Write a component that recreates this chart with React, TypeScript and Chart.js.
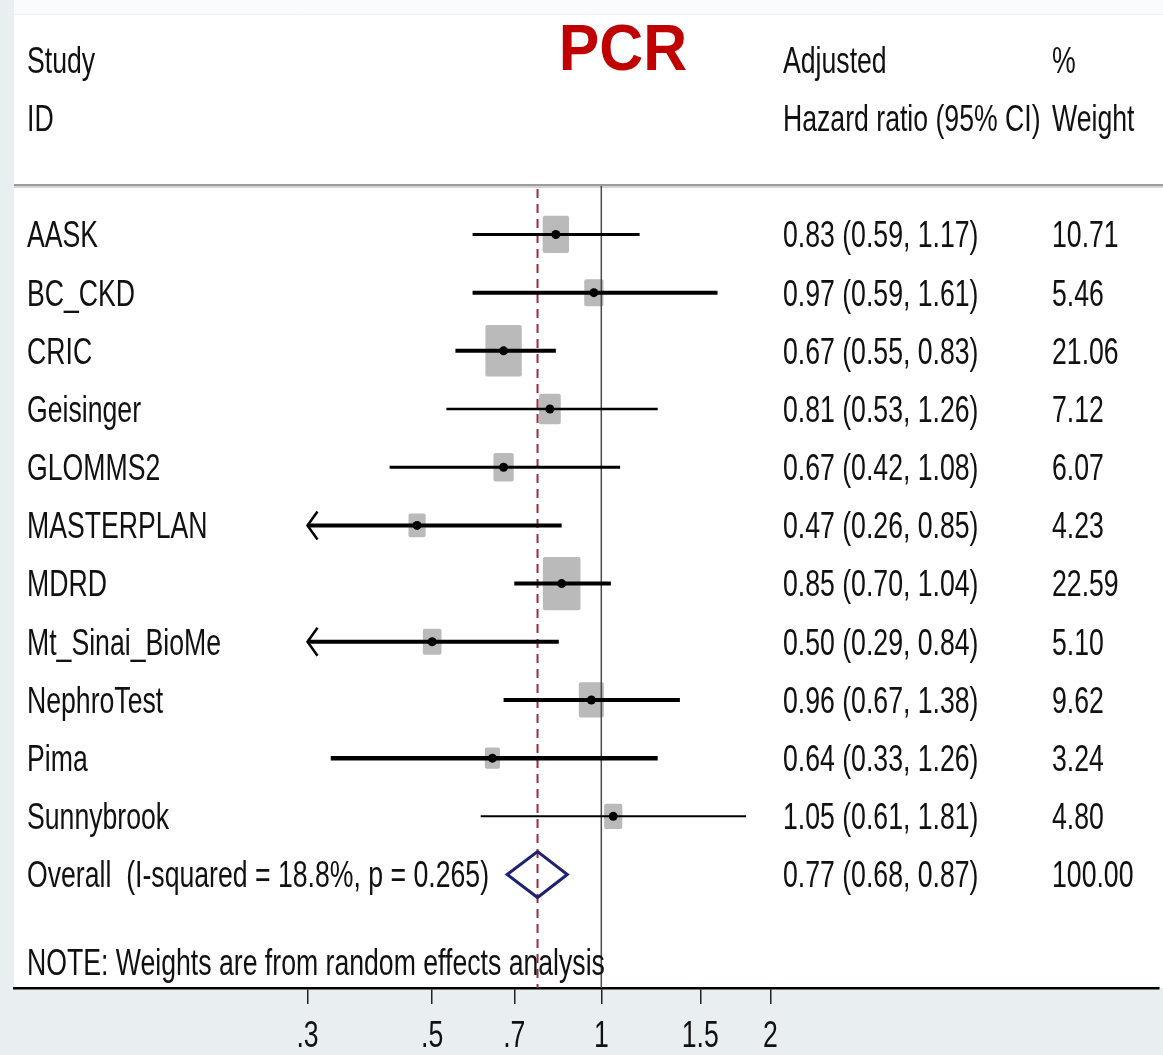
import React, { useEffect, useRef } from "react";
import { Chart, registerables } from "chart.js";

Chart.register(...registerables);

// Study-level results (adjusted hazard ratios, 95% CI, random-effects weights)
const STUDIES = [
  "AASK",
  "BC_CKD",
  "CRIC",
  "Geisinger",
  "GLOMMS2",
  "MASTERPLAN",
  "MDRD",
  "Mt_Sinai_BioMe",
  "NephroTest",
  "Pima",
  "Sunnybrook",
];
const HR = [0.83, 0.97, 0.67, 0.81, 0.67, 0.47, 0.85, 0.5, 0.96, 0.64, 1.05];
const LOWER = [0.59, 0.59, 0.55, 0.53, 0.42, 0.26, 0.7, 0.29, 0.67, 0.33, 0.61];
const UPPER = [1.17, 1.61, 0.83, 1.26, 1.08, 0.85, 1.04, 0.84, 1.38, 1.26, 1.81];
const WEIGHTS = [10.71, 5.46, 21.06, 7.12, 6.07, 4.23, 22.59, 5.1, 9.62, 3.24, 4.8];

// Pooled estimate
const OVERALL_HR = 0.77;
const OVERALL_LOWER = 0.68;
const OVERALL_UPPER = 0.87;
const OVERALL_WEIGHT = 100;
const OVERALL_LABEL = "Overall  (I-squared = 18.8%, p = 0.265)";
const NOTE_LABEL = "NOTE: Weights are from random effects analysis";

// Axis
const X_TICKS = [0.3, 0.5, 0.7, 1, 1.5, 2];
const X_TICK_LABELS = [".3", ".5", ".7", "1", "1.5", "2"];
const X_MIN = 0.0901;
const X_MAX = 9.81;

// Styling
const W = 1163;
const H = 1055;
const CI_WIDTHS = [3, 4, 4, 2.5, 3, 4, 4, 4, 4, 4.5, 2];
const FONT = "'Liberation Sans', Arial, Helvetica, sans-serif";
const FONT_SIZE = 36;
const SX = 0.74; // horizontal condensing of the table text
const TEXT = "#111111";

function condensedText(
  ctx: CanvasRenderingContext2D,
  text: string,
  x: number,
  yCenter: number,
  align: CanvasTextAlign = "left"
) {
  ctx.save();
  ctx.font = `${FONT_SIZE}px ${FONT}`;
  ctx.fillStyle = TEXT;
  ctx.textAlign = align;
  ctx.textBaseline = "alphabetic";
  ctx.translate(x, yCenter + FONT_SIZE * 0.358);
  ctx.scale(SX, 1);
  ctx.fillText(text, 0, 0);
  ctx.restore();
}

const fmt = (v: number) => v.toFixed(2);

const forestPlugin = {
  id: "forest",
  beforeDraw(chart: any) {
    const { ctx, chartArea } = chart;
    ctx.save();
    // page tint, white plot panel
    ctx.fillStyle = "#e9eef1";
    ctx.fillRect(0, 0, W, H);
    ctx.fillStyle = "#fafbfc";
    ctx.fillRect(chartArea.left, 0, W - chartArea.left, 14);
    ctx.fillStyle = "#ffffff";
    ctx.fillRect(chartArea.left, 14, W - chartArea.left, chartArea.bottom - 14);
    ctx.strokeStyle = "#eef0f2";
    ctx.lineWidth = 1;
    ctx.beginPath();
    ctx.moveTo(chartArea.left, 14.5);
    ctx.lineTo(W, 14.5);
    ctx.stroke();
    // header rule
    ctx.strokeStyle = "#d4d4d4";
    ctx.lineWidth = 2;
    ctx.beginPath();
    ctx.moveTo(chartArea.left, chartArea.top + 2);
    ctx.lineTo(W, chartArea.top + 2);
    ctx.stroke();
    ctx.strokeStyle = "#9c9c9c";
    ctx.lineWidth = 2;
    ctx.beginPath();
    ctx.moveTo(chartArea.left, chartArea.top);
    ctx.lineTo(W, chartArea.top);
    ctx.stroke();
    ctx.restore();
  },
  beforeDatasetsDraw(chart: any) {
    const { ctx, chartArea, scales } = chart;
    const xs = scales.x;
    const ys = scales.y;
    ctx.save();

    // weight boxes
    ctx.fillStyle = "#bababa";
    STUDIES.forEach((_, i) => {
      const cx = xs.getPixelForValue(HR[i]);
      const cy = ys.getPixelForValue(i);
      const s = Math.sqrt(WEIGHTS[i]);
      const bw = 7.6 * s + 1.5;
      const bh = 10.9 * s + 1.5;
      ctx.beginPath();
      ctx.roundRect(cx - bw / 2, cy - bh / 2, bw, bh, 2);
      ctx.fill();
    });

    // line of no effect
    const x1 = xs.getPixelForValue(1);
    ctx.strokeStyle = "#4a4a4a";
    ctx.lineWidth = 1.5;
    ctx.beginPath();
    ctx.moveTo(x1, chartArea.top + 1);
    ctx.lineTo(x1, chartArea.bottom);
    ctx.stroke();

    // pooled estimate reference
    const xo = xs.getPixelForValue(OVERALL_HR);
    ctx.strokeStyle = "#9e2a3a";
    ctx.lineWidth = 2;
    ctx.setLineDash([9, 6]);
    ctx.beginPath();
    ctx.moveTo(xo, chartArea.top + 4);
    ctx.lineTo(xo, chartArea.bottom);
    ctx.stroke();
    ctx.setLineDash([]);

    // confidence intervals
    const loClip = X_TICKS[0];
    const hiClip = X_TICKS[X_TICKS.length - 1];
    ctx.strokeStyle = "#000000";
    ctx.lineCap = "butt";
    STUDIES.forEach((_, i) => {
      const cy = ys.getPixelForValue(i);
      const lo = Math.max(LOWER[i], loClip);
      const hi = Math.min(UPPER[i], hiClip);
      const xl = xs.getPixelForValue(lo);
      const xh = xs.getPixelForValue(hi);
      ctx.lineWidth = CI_WIDTHS[i];
      ctx.beginPath();
      ctx.moveTo(xl, cy);
      ctx.lineTo(xh, cy);
      ctx.stroke();
      if (LOWER[i] < loClip) {
        ctx.lineWidth = 2.5;
        ctx.beginPath();
        ctx.moveTo(xl + 10, cy - 14);
        ctx.lineTo(xl, cy);
        ctx.lineTo(xl + 10, cy + 14);
        ctx.stroke();
      }
      if (UPPER[i] > hiClip) {
        ctx.lineWidth = 2.5;
        ctx.beginPath();
        ctx.moveTo(xh - 10, cy - 14);
        ctx.lineTo(xh, cy);
        ctx.lineTo(xh - 10, cy + 14);
        ctx.stroke();
      }
    });
    ctx.restore();
  },
  afterDatasetsDraw(chart: any) {
    const { ctx, scales } = chart;
    const xs = scales.x;
    const ys = scales.y;
    const cy = ys.getPixelForValue(STUDIES.length);
    const half = 23;
    ctx.save();
    ctx.strokeStyle = "#1d2270";
    ctx.lineWidth = 3;
    ctx.lineJoin = "miter";
    ctx.beginPath();
    ctx.moveTo(xs.getPixelForValue(OVERALL_LOWER), cy);
    ctx.lineTo(xs.getPixelForValue(OVERALL_HR), cy - half);
    ctx.lineTo(xs.getPixelForValue(OVERALL_UPPER), cy);
    ctx.lineTo(xs.getPixelForValue(OVERALL_HR), cy + half);
    ctx.closePath();
    ctx.stroke();
    ctx.restore();
  },
  afterDraw(chart: any) {
    const { ctx, chartArea, scales } = chart;
    const xs = scales.x;
    const ys = scales.y;
    const nameX = chartArea.left + 13;
    const hrX = 783;
    const wX = 1052;

    // title
    ctx.save();
    ctx.font = `bold 64px ${FONT}`;
    ctx.fillStyle = "#c00000";
    ctx.textAlign = "center";
    ctx.textBaseline = "alphabetic";
    ctx.translate(623, 70);
    ctx.scale(0.95, 1);
    ctx.fillText("PCR", 0, 0);
    ctx.restore();

    // column headers
    const h1 = ys.getPixelForValue(-3);
    const h2 = ys.getPixelForValue(-2);
    condensedText(ctx, "Study", nameX, h1);
    condensedText(ctx, "ID", nameX, h2);
    condensedText(ctx, "Adjusted", hrX, h1);
    condensedText(ctx, "Hazard ratio (95% CI)", hrX, h2);
    condensedText(ctx, "%", wX, h1);
    condensedText(ctx, "Weight", wX, h2);

    // study rows
    STUDIES.forEach((name, i) => {
      const cy = ys.getPixelForValue(i);
      condensedText(ctx, name, nameX, cy);
      condensedText(ctx, `${fmt(HR[i])} (${fmt(LOWER[i])}, ${fmt(UPPER[i])})`, hrX, cy);
      condensedText(ctx, fmt(WEIGHTS[i]), wX, cy);
    });

    // pooled row
    const oy = ys.getPixelForValue(STUDIES.length);
    condensedText(ctx, OVERALL_LABEL, nameX, oy);
    condensedText(
      ctx,
      `${fmt(OVERALL_HR)} (${fmt(OVERALL_LOWER)}, ${fmt(OVERALL_UPPER)})`,
      hrX,
      oy
    );
    condensedText(ctx, fmt(OVERALL_WEIGHT), wX, oy);

    // note
    condensedText(ctx, NOTE_LABEL, nameX, ys.getPixelForValue(STUDIES.length + 1.5));

    // x tick labels
    X_TICKS.forEach((v, i) => {
      condensedText(ctx, X_TICK_LABELS[i], xs.getPixelForValue(v), chartArea.bottom + 46, "center");
    });
  },
};

export default function App() {
  const ref = useRef<HTMLCanvasElement>(null);

  useEffect(() => {
    if (!ref.current) return;
    const chart = new Chart(ref.current, {
      type: "scatter",
      data: {
        datasets: [
          {
            label: "Hazard ratio",
            data: STUDIES.map((_, i) => ({ x: HR[i], y: i })),
            backgroundColor: "#000000",
            borderWidth: 0,
            pointRadius: 4.5,
            pointHoverRadius: 4.5,
            clip: false,
          },
        ],
      },
      options: {
        animation: false,
        responsive: false,
        devicePixelRatio: 1,
        events: [],
        layout: { padding: { left: 14, top: 185, right: 0, bottom: 0 } },
        plugins: {
          legend: { display: false },
          tooltip: { enabled: false },
          title: { display: false },
        },
        scales: {
          x: {
            type: "logarithmic",
            position: "bottom",
            min: X_MIN,
            max: X_MAX,
            bounds: "data",
            border: { display: true, color: "#000000", width: 2.5 },
            grid: {
              drawOnChartArea: false,
              drawTicks: true,
              tickLength: 16,
              color: "#222222",
              lineWidth: 1.5,
            },
            ticks: {
              display: false,
              autoSkip: false,
              maxRotation: 0,
            },
            afterBuildTicks: (axis: any) => {
              axis.ticks = X_TICKS.map((value) => ({ value }));
            },
            afterFit: (axis: any) => {
              axis.height = 67;
            },
          },
          y: {
            type: "linear",
            display: false,
            reverse: true,
            min: -0.85,
            max: 12.95,
          },
        },
      },
      plugins: [forestPlugin],
    } as any);
    return () => chart.destroy();
  }, []);

  return (
    <div style={{ position: "absolute", left: 0, top: 0, width: W, height: H }}>
      <canvas ref={ref} width={W} height={H} style={{ display: "block", width: W, height: H }} />
    </div>
  );
}
